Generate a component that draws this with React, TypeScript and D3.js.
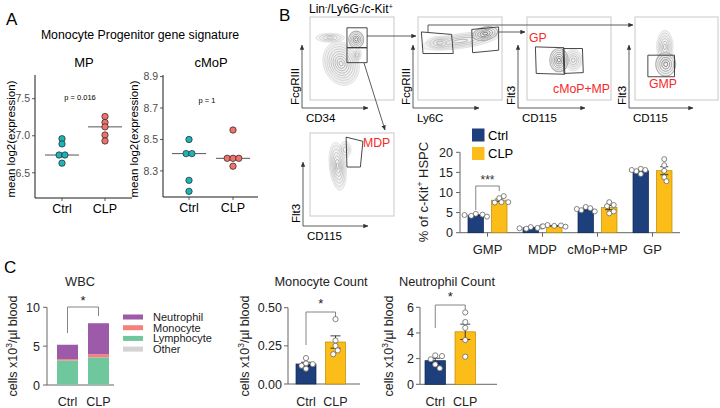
import React from 'react';
import * as d3 from 'd3';

const FONT = "'Liberation Sans', Arial, Helvetica, sans-serif";

// ---------------- Panel A data ----------------
const groups = ['Ctrl', 'CLP'];
const titleA = 'Monocyte Progenitor gene signature';
const subTitlesA = ['MP', 'cMoP'];
const mpCtrl = [6.96, 6.89, 6.74, 6.74, 6.63];
const mpCLP = [7.26, 7.18, 7.12, 7.01, 6.93];
const cmopCtrl = [8.5, 8.41, 8.41, 8.24, 8.17];
const cmopCLP = [8.56, 8.38, 8.38, 8.38, 8.33];
const mpTicks = [6.5, 7.0, 7.5];
const cmopTicks = [8.3, 8.5, 8.7, 8.9];
const pLabels = ['p = 0.016', 'p = 1'];

// ---------------- Panel B data ----------------
const hspcCats = ['GMP', 'MDP', 'cMoP+MP', 'GP'];
const hspcCtrl = [
  [4.7, 4.5, 4.2, 4.0, 4.4],
  [1.4, 1.2, 1.0, 1.1, 1.5],
  [6.4, 6.1, 5.6, 5.3, 5.9],
  [15.9, 15.6, 15.3, 14.6, 15.6],
];
const hspcCLP = [
  [8.6, 9.1, 7.6, 7.5, 7.6],
  [1.7, 1.8, 1.9, 1.5, 1.6],
  [7.6, 6.9, 6.6, 4.8, 5.3],
  [18.3, 16.8, 15.4, 13.8, 12.8],
];
const hspcTicks = [0, 5, 10, 15, 20];

// ---------------- Panel C data ----------------
const cellTypes = ['Other', 'Lymphocyte', 'Monocyte', 'Neutrophil'];
const wbcCtrl = [0.05, 3.1, 0.18, 1.85];
const wbcCLP = [0.05, 3.5, 0.4, 4.0];
const wbcTicks = [0, 5, 10];
const monoCtrl = [0.17, 0.135, 0.13, 0.12, 0.1];
const monoCLP = [0.425, 0.285, 0.25, 0.22, 0.195];
const monoTicks = [0, 0.25, 0.5];
const neutCtrl = [2.25, 2.2, 1.95, 1.55, 1.25];
const neutCLP = [5.6, 4.85, 4.4, 3.45, 2.15];
const neutTicks = [0, 2, 4, 6];

// ---------------- styles ----------------
const NAVY = '#1d3f7c';
const GOLD = '#fcbd18';
const TEAL = '#1db3b8';
const SALMON = '#f0736b';
const cellColors: Record<string, string> = {
  Other: '#d3d3d3',
  Lymphocyte: '#6fc79d',
  Monocyte: '#f4817b',
  Neutrophil: '#9c5aa8',
};
const RED = '#f52a2a';

// ---------------- helpers ----------------
function tieOffsets(vals: number[], d: number) {
  return vals.map((v, i) => {
    const same = vals.map((w, j) => [w, j]).filter(([w]) => Math.abs(w - v) < 1e-9);
    const n = same.length;
    const idx = same.findIndex(([, j]) => j === i);
    return (idx - (n - 1) / 2) * d;
  });
}

function swarm(vals: number[], y: (v: number) => number, r: number, minD: number) {
  const placed: { x: number; y: number }[] = [];
  return vals.map((v) => {
    const py = y(v);
    for (let k = 0; k < 60; k++) {
      const off = k === 0 ? 0 : (k % 2 ? 1 : -1) * Math.ceil(k / 2) * r * 0.9;
      if (placed.every((p) => Math.hypot(p.x - off, p.y - py) >= minD)) {
        placed.push({ x: off, y: py });
        return off;
      }
    }
    return 0;
  });
}

const sem = (a: number[]) => (d3.deviation(a) || 0) / Math.sqrt(a.length);

// ---------------- Panel A ----------------
function DotPlot({ cfg }: { cfg: any }) {
  const y = d3.scaleLinear().domain(cfg.domain).range([cfg.yB, cfg.yT]);
  const x = d3.scalePoint<string>().domain(groups).range(cfg.xr);
  const series = [cfg.ctrl, cfg.clp];
  const colors = [TEAL, SALMON];
  return (
    <g>
      <text x={cfg.titleX} y={67} textAnchor="middle" fontSize={13}>{cfg.title}</text>
      <line x1={cfg.axL} x2={cfg.axL} y1={cfg.yT} y2={cfg.yB} stroke="#000" strokeWidth={0.9} />
      <line x1={cfg.axL} x2={cfg.axR} y1={cfg.yB} y2={cfg.yB} stroke="#000" strokeWidth={0.9} />
      {cfg.ticks.map((t: number) => (
        <g key={t}>
          <line x1={cfg.axL - 3} x2={cfg.axL} y1={y(t)} y2={y(t)} stroke="#333" strokeWidth={0.8} />
          <text x={cfg.axL - 5} y={y(t) + 3.7} textAnchor="end" fontSize={10.5} fill="#4d4d4d">{d3.format('.1f')(t)}</text>
        </g>
      ))}
      {groups.map((g) => (
        <g key={g}>
          <line x1={x(g)} x2={x(g)} y1={cfg.yB} y2={cfg.yB + 3} stroke="#333" strokeWidth={0.8} />
          <text x={x(g)} y={cfg.yB + 15} textAnchor="middle" fontSize={12.5}>{g}</text>
        </g>
      ))}
      {series.map((vals: number[], si: number) => {
        const cx = x(groups[si]) as number;
        const med = d3.median(vals) as number;
        const offs = tieOffsets(vals, 5.8);
        return (
          <g key={si}>
            <line x1={cx - 17} x2={cx + 17} y1={y(med)} y2={y(med)} stroke="#555" strokeWidth={1} />
            {vals.map((v, i) => (
              <circle key={i} cx={cx + offs[i]} cy={y(v)} r={3.2} fill={colors[si]} stroke="#222" strokeWidth={0.7} />
            ))}
          </g>
        );
      })}
      <text x={cfg.pX} y={cfg.pY} textAnchor="middle" fontSize={7.5}>{cfg.p}</text>
      <text transform={`translate(${cfg.labX},${139}) rotate(-90)`} textAnchor="middle" fontSize={11.5}>mean log2(expression)</text>
    </g>
  );
}

function PanelA() {
  const cfgs = [
    { title: subTitlesA[0], ctrl: mpCtrl, clp: mpCLP, ticks: mpTicks, domain: [6.16, 7.82], yB: 198, yT: 75, axL: 35, axR: 132, xr: [62, 105], p: pLabels[0], pX: 80, pY: 100, labX: 15, titleX: 84 },
    { title: subTitlesA[1], ctrl: cmopCtrl, clp: cmopCLP, ticks: cmopTicks, domain: [8.134, 8.91], yB: 197, yT: 75, axL: 163, axR: 258, xr: [189, 233], p: pLabels[1], pX: 207, pY: 103, labX: 138, titleX: 211 },
  ];
  return (
    <g>
      <text x={6} y={25} fontSize={17}>A</text>
      <text x={140} y={39} textAnchor="middle" fontSize={12.3}>{titleA}</text>
      {cfgs.map((c, i) => <DotPlot key={i} cfg={c} />)}
    </g>
  );
}

// ---------------- Panel B flow layouts ----------------
type Blob = { u: number; v: number; ru: number; rv: number; rot: number; n: number; dark: boolean };
type FlowDef = {
  box: [number, number]; w: number; h: number; ax: [number, number]; xLen: number; yLen: number;
  xLab: string; yLab: string; blobs: Blob[]; gates: [number, number][][];
  labels: { t: string; x: number; y: number }[];
};

const flowDefs: FlowDef[] = [
  {
    box: [310, 17], w: 84, h: 83, ax: [302, 108], xLen: 66, yLen: 63, xLab: 'CD34', yLab: 'FcgRIII',
    blobs: [
      { u: 0.37, v: 0.56, ru: 0.21, rv: 0.27, rot: -20, n: 9, dark: false },
      { u: 0.24, v: 0.25, ru: 0.17, rv: 0.055, rot: 0, n: 4, dark: false },
      { u: 0.56, v: 0.46, ru: 0.05, rv: 0.08, rot: 10, n: 3, dark: false },
      { u: 0.55, v: 0.27, ru: 0.09, rv: 0.1, rot: 0, n: 5, dark: true },
    ],
    gates: [
      [[0.44, 0.13], [0.68, 0.13], [0.68, 0.37], [0.44, 0.37]],
      [[0.44, 0.37], [0.68, 0.37], [0.68, 0.55], [0.44, 0.55]],
    ],
    labels: [],
  },
  {
    box: [418, 17], w: 84, h: 83, ax: [413, 108], xLen: 66, yLen: 63, xLab: 'Ly6C', yLab: 'FcgRIII',
    blobs: [
      { u: 0.5, v: 0.29, ru: 0.46, rv: 0.09, rot: -8, n: 5, dark: false },
      { u: 0.26, v: 0.31, ru: 0.16, rv: 0.08, rot: 0, n: 4, dark: false },
      { u: 0.8, v: 0.2, ru: 0.15, rv: 0.08, rot: -12, n: 5, dark: true },
    ],
    gates: [
      [[0.04, 0.18], [0.4, 0.21], [0.42, 0.44], [0.06, 0.44]],
      [[0.64, 0.15], [0.96, 0.12], [0.96, 0.4], [0.65, 0.43]],
    ],
    labels: [],
  },
  {
    box: [527, 17], w: 84, h: 83, ax: [518, 108], xLen: 67, yLen: 63, xLab: 'CD115', yLab: 'Flt3',
    blobs: [
      { u: 0.55, v: 0.52, ru: 0.11, rv: 0.13, rot: 0, n: 5, dark: false },
      { u: 0.38, v: 0.52, ru: 0.11, rv: 0.14, rot: 0, n: 6, dark: true },
    ],
    gates: [
      [[0.1, 0.36], [0.44, 0.37], [0.45, 0.69], [0.11, 0.68]],
      [[0.43, 0.38], [0.66, 0.38], [0.67, 0.67], [0.44, 0.68]],
    ],
    labels: [{ t: 'GP', x: 529, y: 42 }, { t: 'cMoP+MP', x: 553, y: 93 }],
  },
  {
    box: [635, 17], w: 83, h: 83, ax: [629, 108], xLen: 64, yLen: 63, xLab: 'CD115', yLab: 'Flt3',
    blobs: [
      { u: 0.36, v: 0.36, ru: 0.1, rv: 0.2, rot: 0, n: 6, dark: false },
      { u: 0.37, v: 0.57, ru: 0.12, rv: 0.14, rot: 0, n: 5, dark: true },
    ],
    gates: [[[0.155, 0.46], [0.476, 0.46], [0.476, 0.72], [0.155, 0.72]]],
    labels: [{ t: 'GMP', x: 649, y: 88 }],
  },
  {
    box: [310, 133], w: 84, h: 83, ax: [303, 226], xLen: 65, yLen: 64, xLab: 'CD115', yLab: 'Flt3',
    blobs: [
      { u: 0.33, v: 0.4, ru: 0.1, rv: 0.29, rot: -6, n: 7, dark: false },
      { u: 0.42, v: 0.2, ru: 0.07, rv: 0.1, rot: 0, n: 3, dark: false },
    ],
    gates: [[[0.43, 0.05], [0.63, 0.1], [0.6, 0.41], [0.44, 0.41]]],
    labels: [{ t: 'MDP', x: 363, y: 147 }],
  },
];

const connectors = [
  'M367,36 L416,36',
  'M364,63 L385,130',
  'M499,32 L525,32',
  'M428,32 L428,25 L633,25',
];

function FlowPlot({ f }: { f: FlowDef }) {
  const [bx, by] = f.box;
  const sx = d3.scaleLinear().domain([0, 1]).range([bx, bx + f.w]);
  const sy = d3.scaleLinear().domain([0, 1]).range([by, by + f.h]);
  const line = d3.line<[number, number]>().x((d) => sx(d[0])).y((d) => sy(d[1])).curve(d3.curveLinearClosed);
  const [ax, ay] = f.ax;
  return (
    <g>
      <rect x={bx} y={by} width={f.w} height={f.h} fill="#fff" stroke="#c9c9c9" strokeWidth={1} />
      {f.blobs.map((b, bi) => {
        const col = b.dark ? d3.interpolateRgb('#1e1e1e', '#b0b0b0') : d3.interpolateRgb('#7a7a7a', '#d4d4d4');
        return (
          <g key={bi} transform={`translate(${sx(b.u)},${sy(b.v)}) rotate(${b.rot})`}>
            {d3.range(b.n, 0, -1).map((k) => (
              <ellipse key={k} rx={(b.ru * f.w * k) / b.n} ry={(b.rv * f.h * k) / b.n}
                fill={k === b.n ? 'rgba(225,225,225,0.45)' : 'none'}
                stroke={col(k / b.n)} strokeWidth={k === b.n && b.dark ? 1.1 : 0.55} />
            ))}
          </g>
        );
      })}
      {f.gates.map((g, gi) => (
        <path key={gi} d={line(g) as string} fill="none" stroke="#333" strokeWidth={0.9} />
      ))}
      <path d={`M${ax},${ay} L${ax},${ay - f.yLen}`} stroke="#333" strokeWidth={0.8} markerEnd="url(#ah)" />
      <path d={`M${ax},${ay} L${ax + f.xLen},${ay}`} stroke="#333" strokeWidth={0.8} markerEnd="url(#ah)" />
      <text transform={`translate(${ax - 3},${ay - 3}) rotate(-90)`} fontSize={11.5}>{f.yLab}</text>
      <text x={ax + 4} y={ay + 14} fontSize={11.5}>{f.xLab}</text>
      {f.labels.map((l) => (
        <text key={l.t} x={l.x} y={l.y} fontSize={12.3} fill={RED}>{l.t}</text>
      ))}
    </g>
  );
}

// ---------------- Panel B bar chart ----------------
function HspcBars() {
  const xOuter = d3.scaleBand<string>().domain(hspcCats).range([460, 680]);
  const xInner = d3.scaleBand<string>().domain(groups).range([-19.5, 19.5]).paddingInner(0.34);
  const y = d3.scaleLinear().domain([0, 20]).range([232.7, 152.3]);
  const cols = [NAVY, GOLD];
  const strokes = ['#10284f', '#b88a00'];
  const data = [hspcCtrl, hspcCLP];
  const bw = xInner.bandwidth();
  const cx = (ci: number, gi: number) => (xOuter(hspcCats[ci]) as number) + xOuter.bandwidth() / 2 + (xInner(groups[gi]) as number) + bw / 2;
  return (
    <g>
      {groups.map((g, gi) => (
        <g key={g}>
          <rect x={472} y={128.5 + gi * 18.5} width={12.5} height={13} fill={cols[gi]} />
          <text x={488} y={139.5 + gi * 18.5} fontSize={13}>{g}</text>
        </g>
      ))}
      <line x1={460} x2={460} y1={152.3} y2={232.7} stroke="#666" strokeWidth={1} />
      <line x1={460} x2={680} y1={232.7} y2={232.7} stroke="#666" strokeWidth={1} />
      {hspcTicks.map((t) => (
        <g key={t}>
          <line x1={456} x2={460} y1={y(t)} y2={y(t)} stroke="#666" strokeWidth={1} />
          <text x={453} y={y(t) + 4.5} textAnchor="end" fontSize={12.5} fill="#222">{t}</text>
        </g>
      ))}
      {hspcCats.map((c) => {
        const xc = (xOuter(c) as number) + xOuter.bandwidth() / 2;
        return (
          <g key={c}>
            <line x1={xc} x2={xc} y1={232.7} y2={236.7} stroke="#666" strokeWidth={1} />
            <text x={xc} y={254} textAnchor="middle" fontSize={13} fill="#222">{c}</text>
          </g>
        );
      })}
      <text transform="translate(428,192) rotate(-90)" textAnchor="middle" fontSize={13} fill="#222">
        % of c-Kit<tspan dy={-5} fontSize={8.5}>+</tspan><tspan dy={5}> HSPC</tspan>
      </text>
      {data.map((set, gi) =>
        set.map((vals, ci) => {
          const m = d3.mean(vals) as number;
          const s = sem(vals);
          const xc = cx(ci, gi);
          const offs = swarm(vals, y, 2.5, 4.6);
          return (
            <g key={`${gi}-${ci}`}>
              <rect x={xc - bw / 2} y={y(m)} width={bw} height={y(0) - y(m)} fill={cols[gi]} stroke={strokes[gi]} strokeWidth={0.7} />
              <line x1={xc} x2={xc} y1={y(m - s)} y2={y(m + s)} stroke="#111" strokeWidth={0.8} />
              <line x1={xc - 4} x2={xc + 4} y1={y(m + s)} y2={y(m + s)} stroke="#111" strokeWidth={0.8} />
              <line x1={xc - 4} x2={xc + 4} y1={y(m - s)} y2={y(m - s)} stroke="#111" strokeWidth={0.8} />
              {vals.map((v, i) => (
                <circle key={i} cx={xc + offs[i]} cy={y(v)} r={2.5} fill="#fff" stroke="#666" strokeWidth={0.8} />
              ))}
            </g>
          );
        })
      )}
      <path d={`M${cx(0, 0)},210 L${cx(0, 0)},186 L${cx(0, 1)},186 L${cx(0, 1)},191`} fill="none" stroke="#777" strokeWidth={0.9} />
      <text x={(cx(0, 0) + cx(0, 1)) / 2} y={184} textAnchor="middle" fontSize={12} fill="#333">***</text>
    </g>
  );
}

function PanelB() {
  return (
    <g>
      <text x={279} y={21} fontSize={17}>B</text>
      <text x={309} y={12.7} fontSize={12}>
        Lin<tspan dy={-4} fontSize={7}>-</tspan>
        <tspan dy={4}>/Ly6G</tspan><tspan dy={-4} fontSize={7}>-</tspan>
        <tspan dy={4}>/c-Kit</tspan><tspan dy={-4} fontSize={7}>+</tspan>
      </text>
      {flowDefs.map((f, i) => <FlowPlot key={i} f={f} />)}
      {connectors.map((d, i) => (
        <path key={i} d={d} fill="none" stroke="#333" strokeWidth={0.8} markerEnd="url(#ah)" />
      ))}
      <HspcBars />
    </g>
  );
}

// ---------------- Panel C ----------------
function pairScale(left: number, width: number, step: number) {
  return d3.scaleBand<string>().domain(groups).range([left, left + step + width]).paddingInner(1 - width / step).paddingOuter(0);
}

function YLabelCells({ x, y }: { x: number; y: number }) {
  return (
    <text transform={`translate(${x},${y}) rotate(-90)`} textAnchor="middle" fontSize={12.5} fill="#222">
      cells x10<tspan dy={-5} fontSize={8.5}>3</tspan><tspan dy={5}>/µl blood</tspan>
    </text>
  );
}

function CountPlot({ cfg }: { cfg: any }) {
  const x = pairScale(cfg.left, cfg.bw, cfg.step);
  const y = d3.scaleLinear().domain(cfg.domain).range([cfg.y0, cfg.y1]);
  const cols = [NAVY, GOLD];
  const strokes = ['#10284f', '#b88a00'];
  const series = [cfg.ctrl, cfg.clp];
  const bw = x.bandwidth();
  const cx = (gi: number) => (x(groups[gi]) as number) + bw / 2;
  return (
    <g>
      <text x={cfg.titleX} y={286} textAnchor="middle" fontSize={12.8} fill="#222">{cfg.title}</text>
      <line x1={cfg.axL} x2={cfg.axL} y1={cfg.y1} y2={cfg.y0} stroke="#666" strokeWidth={1} />
      <line x1={cfg.axL} x2={cfg.axR} y1={cfg.y0} y2={cfg.y0} stroke="#666" strokeWidth={1} />
      {cfg.ticks.map((t: number) => (
        <g key={t}>
          <line x1={cfg.axL - 4} x2={cfg.axL} y1={y(t)} y2={y(t)} stroke="#666" strokeWidth={1} />
          <text x={cfg.axL - 6} y={y(t) + 4.5} textAnchor="end" fontSize={12.5} fill="#222">{cfg.fmt(t)}</text>
        </g>
      ))}
      {groups.map((g, gi) => (
        <text key={g} x={cx(gi)} y={406} textAnchor="middle" fontSize={12.5} fill="#222">{g}</text>
      ))}
      <YLabelCells x={cfg.labX} y={346} />
      {series.map((vals: number[], gi: number) => {
        const m = d3.mean(vals) as number;
        const s = sem(vals);
        const xc = cx(gi);
        const offs = swarm(vals, y, 2.5, 4.8);
        return (
          <g key={gi}>
            <rect x={xc - bw / 2} y={y(m)} width={bw} height={y(0) - y(m)} fill={cols[gi]} stroke={strokes[gi]} strokeWidth={0.7} />
            <line x1={xc} x2={xc} y1={y(m - s)} y2={y(m + s)} stroke="#111" strokeWidth={0.8} />
            <line x1={xc - 5} x2={xc + 5} y1={y(m + s)} y2={y(m + s)} stroke="#111" strokeWidth={0.8} />
            <line x1={xc - 5} x2={xc + 5} y1={y(m - s)} y2={y(m - s)} stroke="#111" strokeWidth={0.8} />
            {vals.map((v, i) => (
              <circle key={i} cx={xc + offs[i]} cy={y(v)} r={2.6} fill="#fff" stroke="#666" strokeWidth={0.8} />
            ))}
          </g>
        );
      })}
      <path d={`M${cx(0)},${cfg.br[0]} L${cx(0)},${cfg.br[1]} L${cx(1)},${cfg.br[1]} L${cx(1)},${cfg.br[2]}`} fill="none" stroke="#777" strokeWidth={0.9} />
      <text x={(cx(0) + cx(1)) / 2} y={cfg.br[1] - 4} textAnchor="middle" fontSize={13} fill="#222">*</text>
    </g>
  );
}

function WbcPlot() {
  const x = pairScale(57, 21, 31);
  const y = d3.scaleLinear().domain([0, 10]).range([385, 307.3]);
  const table = [wbcCtrl, wbcCLP].map((vals, gi) => {
    const row: any = { group: groups[gi] };
    cellTypes.forEach((c, i) => (row[c] = vals[i]));
    return row;
  });
  const stacked = d3.stack<any>().keys(cellTypes)(table);
  const bw = x.bandwidth();
  const cx = (gi: number) => (x(groups[gi]) as number) + bw / 2;
  const legendOrder = [...cellTypes].reverse();
  return (
    <g>
      <text x={4} y={273} fontSize={17}>C</text>
      <text x={80} y={286} textAnchor="middle" fontSize={12.8} fill="#222">WBC</text>
      <line x1={47} x2={47} y1={307.3} y2={385} stroke="#666" strokeWidth={1} />
      <line x1={47} x2={114} y1={385} y2={385} stroke="#666" strokeWidth={1} />
      {wbcTicks.map((t) => (
        <g key={t}>
          <line x1={43} x2={47} y1={y(t)} y2={y(t)} stroke="#666" strokeWidth={1} />
          <text x={40} y={y(t) + 4.5} textAnchor="end" fontSize={12.5} fill="#222">{t}</text>
        </g>
      ))}
      {groups.map((g, gi) => (
        <text key={g} x={cx(gi)} y={406} textAnchor="middle" fontSize={12.5} fill="#222">{g}</text>
      ))}
      <YLabelCells x={17} y={346} />
      {stacked.map((layer) => (
        <g key={layer.key} fill={cellColors[layer.key]}>
          {layer.map((d, gi) => (
            <rect key={gi} x={x(groups[gi])} y={y(d[1])} width={bw} height={y(d[0]) - y(d[1])} />
          ))}
        </g>
      ))}
      <path d={`M${cx(0)},333 L${cx(0)},307 L${cx(1)},307 L${cx(1)},316`} fill="none" stroke="#777" strokeWidth={0.9} />
      <text x={(cx(0) + cx(1)) / 2} y={305} textAnchor="middle" fontSize={13} fill="#222">*</text>
      {legendOrder.map((c, i) => (
        <g key={c}>
          <rect x={123} y={314.5 + i * 10.7} width={20} height={5} fill={cellColors[c]} />
          <text x={153} y={321 + i * 10.7} fontSize={11} fill="#222">{c}</text>
        </g>
      ))}
    </g>
  );
}

function PanelC() {
  const mono = {
    title: 'Monocyte Count', titleX: 321, ctrl: monoCtrl, clp: monoCLP, ticks: monoTicks, fmt: d3.format('.2f'),
    domain: [0, 0.5], y0: 384, y1: 307.7, axL: 288, axR: 360, left: 296, bw: 20, step: 29.5, labX: 249, br: [345, 312, 317],
  };
  const neut = {
    title: 'Neutrophil Count', titleX: 447, ctrl: neutCtrl, clp: neutCLP, ticks: neutTicks, fmt: d3.format('d'),
    domain: [0, 6], y0: 384.3, y1: 307.3, axL: 420, axR: 497, left: 425, bw: 20.5, step: 30, labX: 393, br: [328, 305, 310],
  };
  return (
    <g>
      <WbcPlot />
      <CountPlot cfg={mono} />
      <CountPlot cfg={neut} />
    </g>
  );
}

export default function App() {
  return (
    <svg width={720} height={408} viewBox="0 0 720 408" fontFamily={FONT}
      style={{ position: 'absolute', left: 0, top: 0, background: '#fff' }}>
      <defs>
        <marker id="ah" viewBox="0 0 8 8" refX={7.5} refY={4} markerWidth={5} markerHeight={5} orient="auto" markerUnits="userSpaceOnUse">
          <path d="M0,0.5L8,4L0,7.5z" fill="#333" />
        </marker>
      </defs>
      <rect width={720} height={408} fill="#fff" />
      <PanelA />
      <PanelB />
      <PanelC />
    </svg>
  );
}
